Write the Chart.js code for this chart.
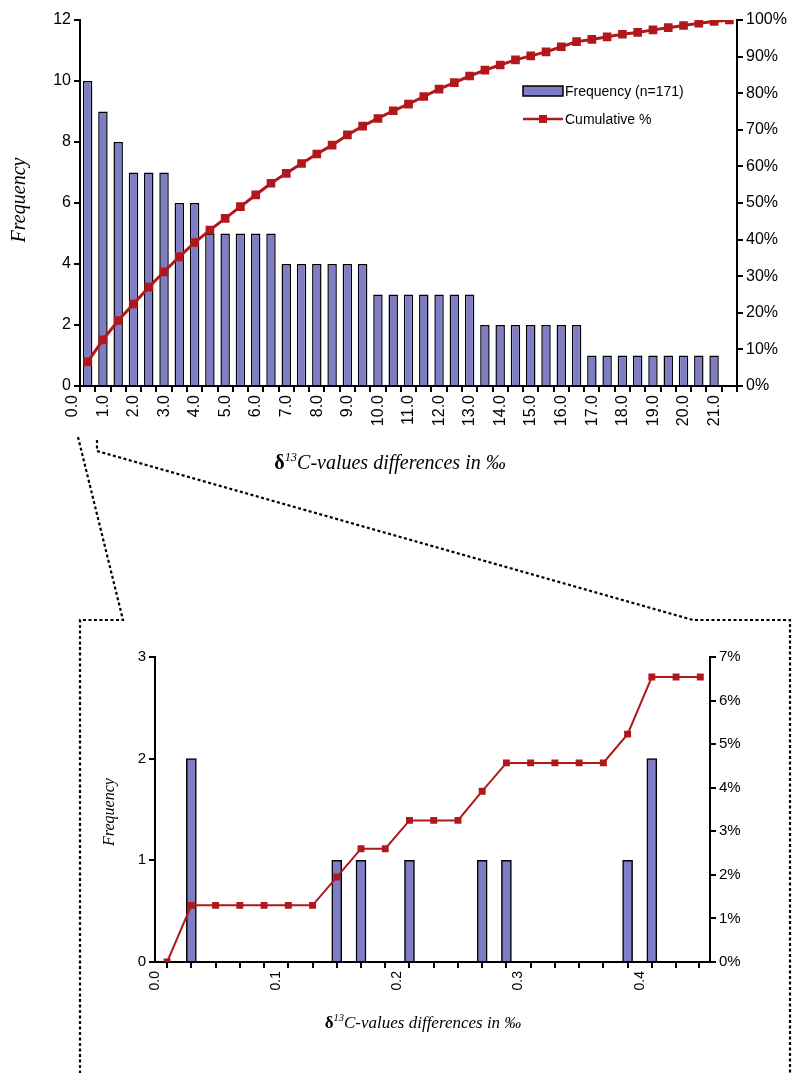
<!DOCTYPE html>
<html><head><meta charset="utf-8">
<script src="https://cdn.jsdelivr.net/npm/chart.js@4"></script>
<style>
html,body{margin:0;padding:0;background:#fff;width:803px;height:1073px;overflow:hidden;position:relative}
#c1{position:absolute;left:0;top:0}
#c2{position:absolute;left:80px;top:622px}
svg{position:absolute;left:0;top:0}
</style></head><body>
<canvas id="c1" width="803" height="480" style="width:803px;height:480px"></canvas>
<canvas id="c2" width="720" height="451" style="width:720px;height:451px"></canvas>
<svg width="803" height="1073"><g fill="none" stroke="#000" stroke-width="2.2" stroke-dasharray="3,2.5">
<polyline points="78,437 123,620 80,620 80,1073"/>
<polyline points="97,440 97,451 693,620 790,620 790,1073"/>
</g></svg>
<script>
// ---- top chart data ----
const topCategories = ["0.0","0.5","1.0","1.5","2.0","2.5","3.0","3.5","4.0","4.5","5.0","5.5","6.0","6.5","7.0","7.5","8.0","8.5","9.0","9.5","10.0","10.5","11.0","11.5","12.0","12.5","13.0","13.5","14.0","14.5","15.0","15.5","16.0","16.5","17.0","17.5","18.0","18.5","19.0","19.5","20.0","20.5","21.0"];
const topFrequency = [10,9,8,7,7,7,6,6,5,5,5,5,5,4,4,4,4,4,4,3,3,3,3,3,3,3,2,2,2,2,2,2,2,1,1,1,1,1,1,1,1,1,null];
const topCumulative = [6.6,12.6,17.9,22.4,27.0,31.2,35.3,39.2,42.6,45.8,49.0,52.2,55.4,58.1,60.8,63.4,65.8,68.6,71.0,73.1,75.2,77.0,79.1,81.1,82.9,84.7,86.3,87.7,89.1,90.2,91.3,92.7,94.1,94.7,95.4,96.1,96.6,97.3,97.9,98.5,99.1,99.6,100];
// ---- bottom (zoom) chart data ----
const zoomBarX = [0.03,0.15,0.17,0.21,0.27,0.29,0.39,0.41];
const zoomBarFreq = [2,1,1,1,1,1,1,2];
const zoomCumX = [0.01,0.03,0.05,0.07,0.09,0.11,0.13,0.15,0.17,0.19,0.21,0.23,0.25,0.27,0.29,0.31,0.33,0.35,0.37,0.39,0.41,0.43,0.45];
const zoomCumPct = [0,1.3,1.3,1.3,1.3,1.3,1.3,1.95,2.6,2.6,3.25,3.25,3.25,3.92,4.57,4.57,4.57,4.57,4.57,5.23,6.54,6.54,6.54];

const BAR='#7f7dc6', RED='#b0181c';
const tickFont={family:'Liberation Sans, Arial',size:16};
function axisBase(){return {grid:{drawOnChartArea:false,color:'#000',lineWidth:2,tickLength:6},border:{color:'#000',width:2},ticks:{color:'#000',font:tickFont}};}

function drawTitle(ctx,cx,cy,size,rot){
  ctx.save();ctx.translate(cx,cy);if(rot)ctx.rotate(-Math.PI/2);
  ctx.fillStyle='#000';ctx.textBaseline='alphabetic';
  const p1='δ',p2='13',p3='C-values differences in ‰';
  ctx.font='bold '+size+'px "Liberation Serif"';const w1=ctx.measureText(p1).width;
  ctx.font='italic '+(size*0.62)+'px "Liberation Serif"';const w2=ctx.measureText(p2).width;
  ctx.font='italic '+size+'px "Liberation Serif"';const w3=ctx.measureText(p3).width;
  let x=-(w1+w2+w3)/2;
  ctx.font='bold '+size+'px "Liberation Serif"';ctx.fillText(p1,x,size*0.35);x+=w1;
  ctx.font='italic '+(size*0.62)+'px "Liberation Serif"';ctx.fillText(p2,x,-size*0.05);x+=w2;
  ctx.font='italic '+size+'px "Liberation Serif"';ctx.fillText(p3,x,size*0.35);
  ctx.restore();
}
function drawFreq(ctx,cx,cy,size){
  ctx.save();ctx.translate(cx,cy);ctx.rotate(-Math.PI/2);ctx.fillStyle='#000';
  ctx.font='italic '+size+'px "Liberation Serif"';ctx.textAlign='center';ctx.textBaseline='middle';
  ctx.fillText('Frequency',0,0);ctx.restore();
}

new Chart(document.getElementById('c1'),{
  data:{labels:topCategories,datasets:[
    {type:'line',label:'Cumulative %',data:topCumulative,yAxisID:'y1',borderColor:RED,backgroundColor:RED,borderWidth:3,pointStyle:'rect',pointRadius:4,tension:0,order:0},
    {type:'bar',label:'Frequency (n=171)',data:topFrequency,yAxisID:'y',backgroundColor:BAR,borderColor:'#000',borderWidth:1.5,categoryPercentage:1,barPercentage:0.62,order:1}
  ]},
  options:{responsive:false,animation:false,devicePixelRatio:1,
    layout:{padding:{top:20,left:0,right:0,bottom:0}},
    plugins:{legend:{display:false},tooltip:{enabled:false}},
    scales:{
      x:Object.assign(axisBase(),{type:'category',offset:true,
        grid:{drawOnChartArea:false,color:'#000',lineWidth:2,tickLength:6,offset:true},
        ticks:{color:'#000',font:tickFont,autoSkip:false,minRotation:90,maxRotation:90,labelOffset:-15,
          callback:function(v,i){const l=topCategories[i];return l.endsWith('.0')?l:'';}},
        afterFit:s=>{s.height=94;}}),
      y:Object.assign(axisBase(),{position:'left',min:0,max:12,ticks:{color:'#000',font:tickFont,stepSize:2},afterFit:s=>{s.width=80;}}),
      y1:Object.assign(axisBase(),{position:'right',min:0,max:100,ticks:{color:'#000',font:tickFont,stepSize:10,callback:v=>v+'%'},afterFit:s=>{s.width=66;}})
    }},
  plugins:[{id:'deco',afterDraw(c){const ctx=c.ctx;
    drawTitle(ctx,390,462,20,false);
    drawFreq(ctx,20,200,20);
    ctx.save();
    ctx.fillStyle=BAR;ctx.strokeStyle='#000';ctx.lineWidth=1.5;
    ctx.fillRect(523,86,40,10);ctx.strokeRect(523,86,40,10);
    ctx.strokeStyle=RED;ctx.lineWidth=2.5;ctx.beginPath();ctx.moveTo(523,119);ctx.lineTo(563,119);ctx.stroke();
    ctx.fillStyle=RED;ctx.fillRect(539,115,8,8);
    ctx.fillStyle='#000';ctx.font='14px "Liberation Sans"';ctx.textBaseline='middle';
    ctx.fillText('Frequency (n=171)',565,92);ctx.fillText('Cumulative %',565,120);
    ctx.restore();}}]
});

new Chart(document.getElementById('c2'),{
  data:{datasets:[
    {type:'line',label:'Cumulative %',data:zoomCumX.map((x,i)=>({x:x,y:zoomCumPct[i]})),xAxisID:'x',yAxisID:'y1',borderColor:RED,backgroundColor:RED,borderWidth:2,pointStyle:'rect',pointRadius:3.5,tension:0,order:0},
    {type:'bar',label:'Frequency',data:zoomBarX.map((x,i)=>({x:x,y:zoomBarFreq[i]})),xAxisID:'x',yAxisID:'y',backgroundColor:BAR,borderColor:'#000',borderWidth:1.5,barThickness:10,order:1}
  ]},
  options:{responsive:false,animation:false,devicePixelRatio:1,
    layout:{padding:{top:35,left:0,right:0,bottom:0}},
    plugins:{legend:{display:false},tooltip:{enabled:false}},
    scales:{
      x:Object.assign(axisBase(),{type:'linear',min:0,max:0.458,offset:false,
        ticks:{color:'#000',font:{family:'Liberation Sans',size:14},stepSize:0.02,autoSkip:false,minRotation:90,maxRotation:90,
          callback:v=>{const r=Math.round(v*100);return (r%10===0 && Math.abs(v*100-r)<1e-6)?(r/100).toFixed(1):'';}},
        afterFit:s=>{s.height=111;}}),
      y:Object.assign(axisBase(),{position:'left',min:0,max:3,ticks:{color:'#000',font:{family:'Liberation Sans',size:15},stepSize:1},afterFit:s=>{s.width=75;}}),
      y1:Object.assign(axisBase(),{position:'right',min:0,max:7,ticks:{color:'#000',font:{family:'Liberation Sans',size:15},stepSize:1,callback:v=>v+'%'},afterFit:s=>{s.width=90;}})
    }},
  plugins:[{id:'deco2',afterDraw(c){const ctx=c.ctx;
    drawTitle(ctx,343,400,17,false);
    drawFreq(ctx,30,190,16);}}]
});
</script></body></html>
